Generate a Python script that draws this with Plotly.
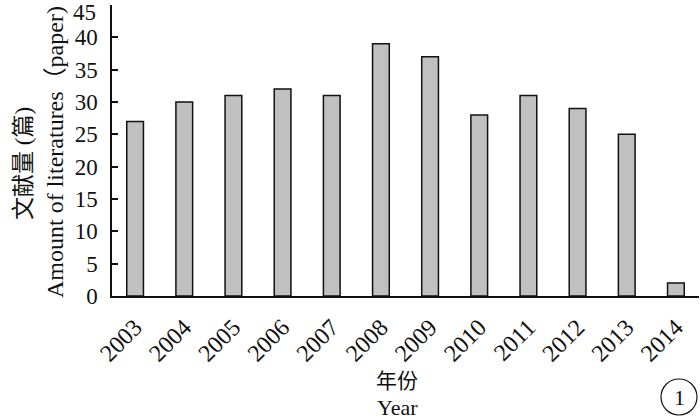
import plotly.graph_objects as go

years = ["2003", "2004", "2005", "2006", "2007", "2008", "2009", "2010", "2011", "2012", "2013", "2014"]
counts = [27, 30, 31, 32, 31, 39, 37, 28, 31, 29, 25, 2]
y_ticks = [0, 5, 10, 15, 20, 25, 30, 35, 40, 45]

FONT = "Liberation Serif, Times New Roman, Noto Sans CJK SC, serif"
W, H = 700, 420
L, R, T, B = 112, 1, 5, 124


def px(x):
    return (x - L) / (W - L - R)


def py(y):
    return (H - B - y) / (H - T - B)


fig = go.Figure(go.Bar(
    x=years, y=counts, width=0.34,
    marker=dict(color="#c0c0c0", line=dict(color="#111111", width=1.5)),
))

fig.update_layout(
    width=W, height=H,
    margin=dict(l=L, r=R, t=T, b=B, autoexpand=False),
    paper_bgcolor="white", plot_bgcolor="white",
    font=dict(family=FONT, size=23, color="#111111"),
    showlegend=False,
)
fig.update_xaxes(
    type="category", range=[-0.47, 11.47], automargin=False,
    showline=True, linecolor="#111111", linewidth=1.5,
    ticks="", tickangle=-45, tickfont=dict(size=24), ticklabelstandoff=6,
    showgrid=False, ticklabeloverflow="allow",
)
# top label (45) is drawn as an annotation just below its tick so it is not clipped
tick_text = [str(v) for v in y_ticks[:-1]] + [""]
fig.update_yaxes(
    range=[0, 45], tickvals=y_ticks, ticktext=tick_text, automargin=False,
    showline=True, linecolor="#111111", linewidth=1.5,
    ticks="inside", ticklen=6, tickwidth=1.5, tickcolor="#111111",
    tickfont=dict(size=23), ticklabelstandoff=8,
    showgrid=False, zeroline=False, ticklabeloverflow="allow",
)

common = dict(xref="paper", yref="paper", showarrow=False,
              xanchor="center", yanchor="middle")
fig.add_annotation(text=str(y_ticks[-1]), x=px(98), y=py(12), xanchor="right",
                   yanchor="middle", xref="paper", yref="paper", showarrow=False,
                   font=dict(size=23))
fig.add_annotation(text="文献量 (篇)", x=px(23), y=py(164), textangle=-90,
                   font=dict(size=23), **common)
fig.add_annotation(text="Amount of literatures（paper)", x=px(55), y=py(152),
                   textangle=-90, font=dict(size=24), **common)
fig.add_annotation(text="年份", x=px(397), y=py(381), font=dict(size=21), **common)
fig.add_annotation(text="Year", x=px(397), y=py(407), font=dict(size=22), **common)
fig.add_annotation(text="1", x=px(679), y=py(397), font=dict(size=22), **common)
fig.add_shape(type="circle", xref="paper", yref="paper",
              x0=px(661), x1=px(697), y0=py(415), y1=py(379),
              line=dict(color="#111111", width=1.2))

fig.write_html("out.html", config={"displayModeBar": False},
               post_script="document.body.style.margin='0';document.body.style.overflow='hidden';")
